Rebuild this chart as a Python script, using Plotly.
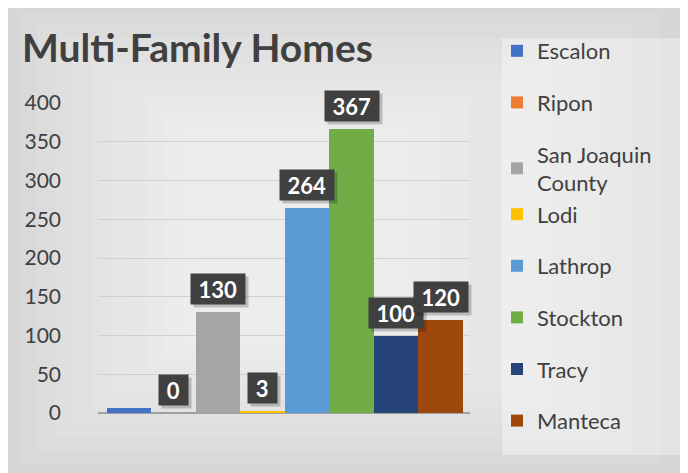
import plotly.graph_objects as go

TITLE = "Multi-Family Homes"

places = ["Escalon", "Ripon", "San Joaquin<br>County", "Lodi", "Lathrop", "Stockton", "Tracy", "Manteca"]
homes = [6, 0, 130, 3, 264, 367, 100, 120]
shown_labels = ["", "0", "130", "3", "264", "367", "100", "120"]
colors = ["#4472C4", "#ED7D31", "#A5A5A5", "#FFC000", "#5B9BD5", "#70AD47", "#264478", "#9E480E"]
legend_groups = ["a", "b", "c", "c", "d", "e", "f", "g"]
y_ticks = [0, 50, 100, 150, 200, 250, 300, 350, 400]

TEXT = "#404040"
FONT = "Lato, 'Open Sans', sans-serif"

# plot area in page pixels (page body adds an 8px offset)
L, R, T, B = 90, 462, 95, 405


def px(x):
    return (x - L) / (R - L)


def py(y):
    return (B - y) / (B - T)


fig = go.Figure()
for i, (name, val, col, grp) in enumerate(zip(places, homes, colors, legend_groups)):
    fig.add_trace(go.Bar(x=[i], y=[val], name=name, width=1, marker_color=col,
                         marker_line_width=0, legendgroup=grp))

# data label boxes with a soft shadow
for i, (val, lab) in enumerate(zip(homes, shown_labels)):
    if not lab:
        continue
    w = 8 + 12.5 * len(lab)
    for shadow in (True, False):
        fig.add_annotation(
            x=i, y=val, xref="x", yref="y", text=f"<b>{lab}</b>", showarrow=False,
            yanchor="bottom", yshift=7 - (3 if shadow else 0), xshift=(3 if shadow else 0),
            width=w, height=22,
            font=dict(family=FONT, size=22, color="rgba(0,0,0,0)" if shadow else "white"),
            bgcolor="rgba(0,0,0,0.2)" if shadow else "#404040", borderpad=4,
        )

# background gradient, lighter toward the middle of the chart
shapes = []
steps = 12
for k in range(steps):
    f = k / steps
    shapes.append(dict(type="rect", xref="paper", yref="paper", layer="below",
                       x0=px(-8 + 220 * f), x1=px(680 - 330 * f),
                       y0=py(470 - 160 * f), y1=py(-8 + 150 * f),
                       line_width=0, fillcolor="rgba(255,255,255,0.09)"))
# legend panel
shapes.append(dict(type="rect", xref="paper", yref="paper", layer="below",
                   x0=px(494), x1=px(672), y0=py(447), y1=py(30),
                   line_width=0, fillcolor="rgba(255,255,255,0.35)"))

fig.update_layout(
    width=688, height=473,
    margin=dict(l=L, r=688 - R, t=T, b=473 - B),
    paper_bgcolor="#d2d2d2", plot_bgcolor="rgba(0,0,0,0)",
    font=dict(family=FONT, color=TEXT),
    title=dict(text=TITLE, x=14 / 688, xanchor="left", y=1 - 40 / 473, yanchor="middle",
               font=dict(family=FONT, size=39, color=TEXT, weight=700)),
    shapes=shapes,
    showlegend=True,
    legend=dict(x=px(489), xanchor="left", y=py(22), yanchor="top",
                bgcolor="rgba(0,0,0,0)", font=dict(size=22, color=TEXT),
                traceorder="grouped", tracegroupgap=20, itemwidth=30, maxheight=460),
    bargap=0,
)
fig.update_xaxes(range=[-0.7, 7.66], showticklabels=False, showgrid=False, zeroline=False,
                 fixedrange=True)
fig.update_yaxes(range=[0, 400], tickvals=y_ticks, showgrid=True, gridcolor="#d0d0d0",
                 gridwidth=1, zeroline=True, zerolinecolor="#a0a0a0", zerolinewidth=2,
                 tickfont=dict(size=21, color=TEXT), ticklabelstandoff=36, fixedrange=True)

fig.write_html("out.html")
